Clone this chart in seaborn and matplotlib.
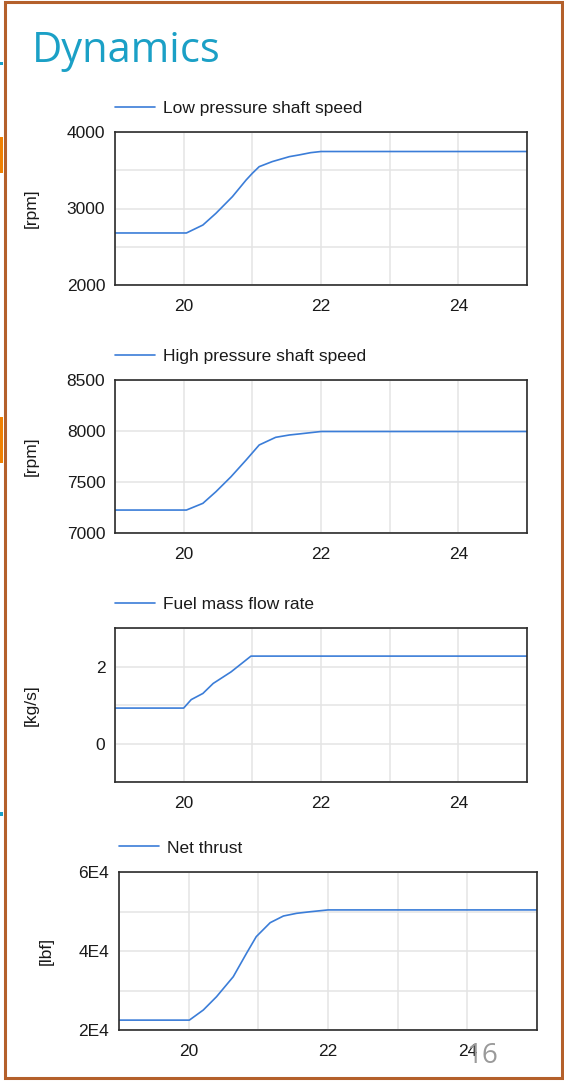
import matplotlib
matplotlib.use("Agg")
import matplotlib.pyplot as plt
from matplotlib.patches import Rectangle
import seaborn as sns
import pandas as pd

# ---------------- data ----------------
lp_t = [19.0, 20.04, 20.28, 20.47, 20.71, 20.91, 21.00, 21.10, 21.29, 21.54, 21.68, 21.85, 22.0, 25.0]
lp_v = [2680, 2680, 2784, 2937, 3155, 3373, 3460, 3547, 3613, 3678, 3700, 3730, 3745, 3745]

hp_t = [19.0, 20.04, 20.28, 20.47, 20.69, 20.91, 21.10, 21.34, 21.54, 21.68, 22.0, 25.0]
hp_v = [7225, 7225, 7291, 7405, 7552, 7716, 7863, 7938, 7961, 7971, 7995, 7995]

fuel_t = [19.0, 20.0, 20.11, 20.28, 20.43, 20.69, 20.98, 25.0]
fuel_v = [0.92, 0.92, 1.14, 1.30, 1.56, 1.86, 2.27, 2.27]

thr_t = [19.0, 20.01, 20.21, 20.40, 20.64, 20.83, 20.97, 21.17, 21.36, 21.55, 21.75, 22.0, 25.0]
thr_v = [22500, 22500, 25060, 28430, 33490, 39410, 43630, 47170, 48860, 49540, 49950, 50400, 50400]

series_names = ["Low pressure shaft speed", "High pressure shaft speed",
                "Fuel mass flow rate", "Net thrust"]
units = ["[rpm]", "[rpm]", "[kg/s]", "[lbf]"]

x_ticks = [19, 20, 21, 22, 23, 24, 25]
x_labels = ["", "20", "", "22", "", "24", ""]

y_ticks = [
    [2000, 2500, 3000, 3500, 4000],
    [7000, 7500, 8000, 8500],
    [-1, 0, 1, 2, 3],
    [20000, 30000, 40000, 50000, 60000],
]
y_labels = [
    ["2000", "", "3000", "", "4000"],
    ["7000", "7500", "8000", "8500"],
    ["", "0", "", "2", ""],
    ["2E4", "", "4E4", "", "6E4"],
]

# ---------------- style ----------------
sns.set_style("white")
plt.rcParams["font.family"] = ["Liberation Sans", "DejaVu Sans"]

W, H = 564, 1081
fig = plt.figure(figsize=(W / 100, H / 100), dpi=100)
fig.patch.set_facecolor("white")

def px_axes(left, right, top, bottom):
    return fig.add_axes([left / W, 1 - bottom / H, (right - left) / W, (bottom - top) / H])

boxes = [
    (115, 527, 132, 285),
    (115, 527, 380, 533),
    (115, 527, 628, 782),
    (119, 537, 872, 1030),
]
label_right = [39, 39, 39, 54]

datasets = [(lp_t, lp_v), (hp_t, hp_v), (fuel_t, fuel_v), (thr_t, thr_v)]

line_color = "#3b7dd8"
grid_color = "#e4e4e4"
spine_color = "#2b2b2b"

for i, ((t, v), box) in enumerate(zip(datasets, boxes)):
    ax = px_axes(*box)
    df = pd.DataFrame({"t": t, "v": v})
    sns.lineplot(data=df, x="t", y="v", ax=ax, color=line_color, linewidth=1.2,
                 label=series_names[i])
    ax.set_xlim(19, 25)
    ax.set_ylim(y_ticks[i][0], y_ticks[i][-1])
    ax.set_xticks(x_ticks)
    ax.set_xticklabels(x_labels)
    ax.set_yticks(y_ticks[i])
    ax.set_yticklabels(y_labels[i])
    ax.grid(True, color=grid_color, linewidth=1.1)
    ax.set_axisbelow(True)
    for s in ax.spines.values():
        s.set_color(spine_color)
        s.set_linewidth(1.2)
    ax.tick_params(axis="both", direction="out", length=5, width=1.2,
                   color=spine_color, labelsize=12.5, labelcolor="#1a1a1a", pad=2)
    ax.tick_params(axis="x", length=4, pad=6)
    ax.set_xlabel("")
    ax.set_ylabel(units[i], fontsize=12.5, color="#1a1a1a")
    left, right, top, bottom = box
    ax.yaxis.set_label_coords((label_right[i] - left) / (right - left), 0.5)
    leg_y = (bottom - (top - 24)) / (bottom - top)
    ax.legend(loc="center left", bbox_to_anchor=(0.0, leg_y), frameon=False,
              fontsize=12.5, handlelength=2.3, handletextpad=0.45, borderpad=0,
              borderaxespad=0, labelcolor="#1a1a1a")

# ---------------- slide decorations ----------------
fig.text(32 / W, 1 - 62 / H, "Dynamics", fontsize=30, color="#1ba0c6",
         family=["Open Sans", "DejaVu Sans"], ha="left", va="baseline")
fig.text(466 / W, 1 - 1063 / H, "16", fontsize=20, color="#9a9a9a",
         family=["Open Sans", "DejaVu Sans"], ha="left", va="baseline")

border = Rectangle((4.5 / W, 1 - 1077.5 / H), (562 - 4.5) / W, (1077.5 - 1.5) / H,
                   transform=fig.transFigure, fill=False, edgecolor="#b4602b",
                   linewidth=2.2, zorder=10)
fig.patches.append(border)

for (y0, y1, col) in [(137, 173, "#f08000"), (417, 463, "#f08000"),
                      (62, 65, "#1ba0c6"), (812, 816, "#1ba0c6")]:
    fig.patches.append(Rectangle((0, 1 - y1 / H), 3 / W, (y1 - y0) / H,
                                 transform=fig.transFigure, facecolor=col,
                                 edgecolor="none", zorder=9))

fig.savefig("out.png", dpi=100)
